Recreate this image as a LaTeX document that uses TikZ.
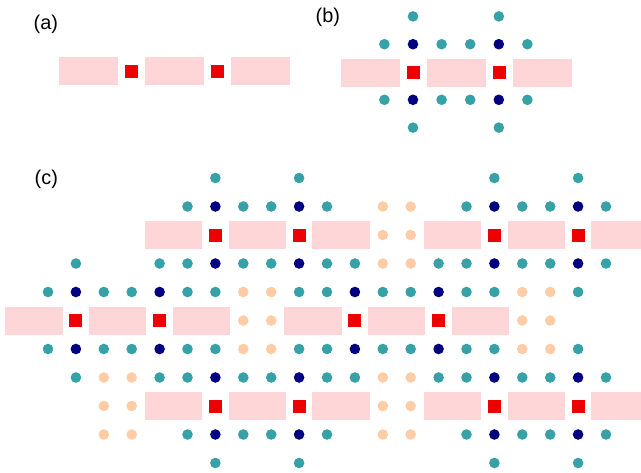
\documentclass[tikz,border=0pt]{standalone}
\usepackage{fontspec}
\setmainfont{Liberation Sans}
\definecolor{barpink}{RGB}{255,214,215}
\definecolor{sitered}{RGB}{238,0,0}
\definecolor{tealdot}{RGB}{54,162,167}
\definecolor{navydot}{RGB}{0,0,128}
\definecolor{peachdot}{RGB}{255,204,166}

% #1,#2: centre of the first red site; #3,#4: column and row steps
\newcommand{\sitechain}[4]{%
  \foreach \k in {-1.5,1.5,4.5}
    \fill[bar] ({#1+\k*#3-1.025*#3},{#2-14}) rectangle ({#1+\k*#3+1.025*#3},{#2+14});
  \foreach \k in {0,3}
    \fill[site] ({#1+\k*#3-6.5},{#2-6.5}) rectangle ({#1+\k*#3+6.5},{#2+6.5});
}
% ring of dots round a chain (same arguments)
\newcommand{\sitedots}[4]{%
  \foreach \s in {-1,1} {
    \foreach \k in {0,3} {
      \fill[inner] ({#1+\k*#3},{#2+\s*#4}) circle (\dotr);
      \fill[outer] ({#1+\k*#3},{#2+2*\s*#4}) circle (\dotr);
    }
    \foreach \k in {-1,1,2,4}
      \fill[outer] ({#1+\k*#3},{#2+\s*#4}) circle (\dotr);
  }
}
% grid of panel (c)
\newcommand{\gx}[1]{(48+27.9*(#1))}
\newcommand{\gy}[1]{(178+28.5*(#1))}
\newcommand{\dotr}{5.3}

\begin{document}
\begin{tikzpicture}[x=0.03cm,y=-0.03cm,
  bar/.style={fill=barpink},
  site/.style={fill=sitered},
  inner/.style={fill=navydot},
  outer/.style={fill=tealdot},
  spare/.style={fill=peachdot},
  panel/.style={anchor=base west,inner sep=0pt,font=\fontsize{17}{20}\selectfont}]
\useasboundingbox (0,0) rectangle (641,472);
\clip (0,0) rectangle (641,472);

% panel labels
\node[panel] (la) at (33.5,29) {(a)};
\node[panel] (lb) at (315.5,22) {(b)};
\node[panel] (lc) at (34.5,184) {(c)};

% (a) bare chain
\sitechain{131.5}{71}{28.67}{28}

% (b) chain with its ring of dots
\sitechain{413.5}{72.5}{28.6}{27.8}
\sitedots{413}{72}{28.6}{27.8}

% (c) six chains on a common grid
\foreach \c/\r in {6/2,16/2,1/5,11/5,6/8,16/8} {
  \sitechain{\gx{\c}}{\gy{\r}}{27.9}{28.5}
  \sitedots{\gx{\c}}{\gy{\r}}{27.9}{28.5}
}

% (c) spare dots filling the gaps between chains
\foreach \i/\j in {12/1,13/1,12/2,13/2,12/3,13/3,
                   7/4,8/4,7/5,8/5,7/6,8/6,
                   17/4,18/4,17/5,18/5,17/6,18/6,
                   2/7,3/7,2/8,3/8,2/9,3/9,
                   12/7,13/7,12/8,13/8,12/9,13/9}
  \fill[spare] ({\gx{\i}},{\gy{\j}}) circle (\dotr);
\end{tikzpicture}
\end{document}
